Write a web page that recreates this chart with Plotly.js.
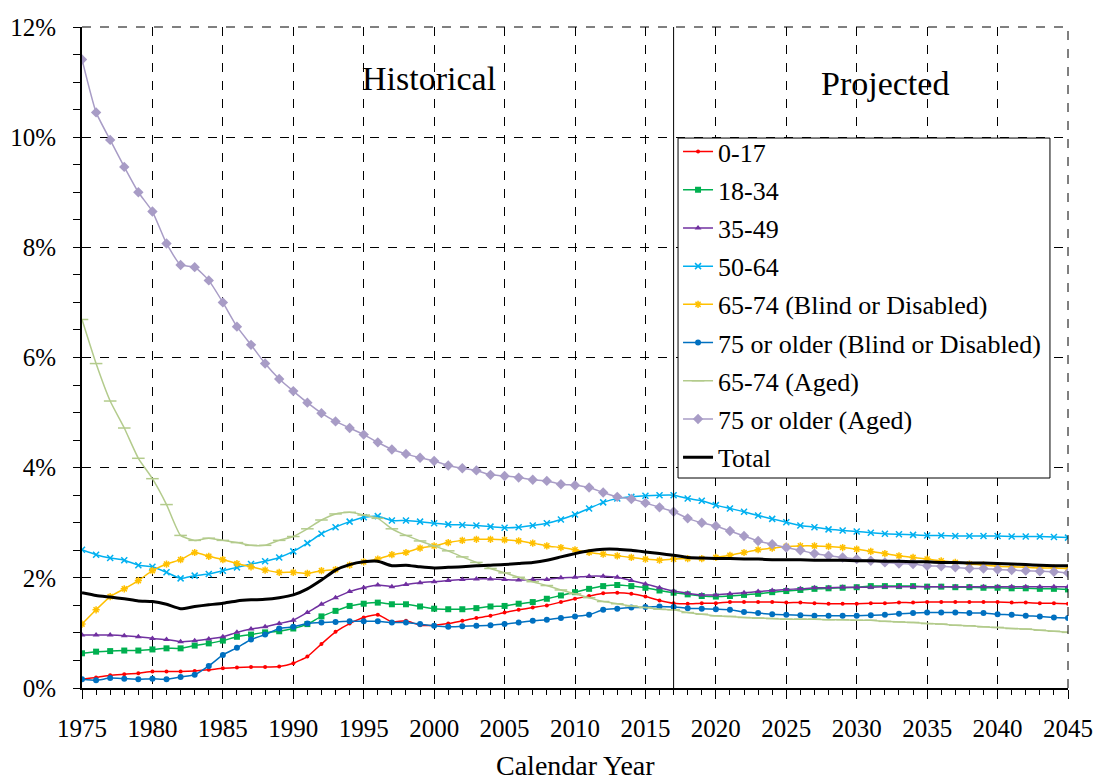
<!DOCTYPE html>
<html>
<head>
<meta charset="utf-8">
<script src="https://cdn.plot.ly/plotly-3.0.1.min.js"></script>
<style>html,body{margin:0;padding:0;background:#fff;}#chart{width:1094px;height:780px;}</style>
</head>
<body>
<div id="chart"></div>
<script>
const startYear = 1975, endYear = 2045;
const years = [];
for (let y = startYear; y <= endYear; y++) years.push(y);

const seriesNames = ["0-17","18-34","35-49","50-64","65-74 (Blind or Disabled)","75 or older (Blind or Disabled)","65-74 (Aged)","75 or older (Aged)","Total"];

const age0_17 = [0.16,0.19,0.23,0.25,0.27,0.30,0.30,0.30,0.31,0.33,0.36,0.37,0.38,0.38,0.39,0.45,0.57,0.80,1.02,1.17,1.28,1.33,1.20,1.22,1.14,1.14,1.17,1.22,
  1.27,1.31,1.37,1.42,1.46,1.50,1.56,1.62,1.67,1.72,1.73,1.71,1.66,1.59,1.54,
  1.53,1.54,1.54,1.56,1.56,1.56,1.56,1.55,1.55,1.54,1.53,1.53,1.53,1.54,1.54,1.55,1.55,1.56,1.56,1.56,1.56,1.56,1.56,1.55,1.55,1.54,1.54,1.53];
const age18_34 = [0.63,0.66,0.67,0.68,0.68,0.70,0.72,0.72,0.77,0.81,0.86,0.93,0.97,1.01,1.03,1.08,1.16,1.30,1.40,1.49,1.53,1.55,1.52,1.52,1.48,1.44,1.43,1.43,
  1.45,1.48,1.49,1.53,1.56,1.62,1.68,1.74,1.80,1.85,1.87,1.85,1.82,1.77,1.73,
  1.70,1.67,1.66,1.67,1.69,1.71,1.74,1.76,1.78,1.80,1.81,1.82,1.83,1.85,1.85,1.85,1.85,1.84,1.84,1.83,1.83,1.82,1.82,1.81,1.81,1.80,1.80,1.79];
const age35_49 = [0.96,0.96,0.96,0.95,0.93,0.90,0.88,0.84,0.86,0.89,0.93,1.01,1.07,1.11,1.17,1.23,1.37,1.52,1.64,1.75,1.82,1.87,1.84,1.88,1.91,1.93,1.95,1.97,
  1.98,1.98,1.97,1.96,1.97,1.97,2.00,2.01,2.03,2.03,2.01,1.95,1.89,1.82,1.76,
  1.72,1.69,1.69,1.71,1.73,1.75,1.77,1.79,1.80,1.82,1.82,1.83,1.83,1.83,1.84,1.84,1.84,1.84,1.84,1.84,1.84,1.84,1.84,1.84,1.84,1.84,1.84,1.84];
const age50_64 = [2.51,2.42,2.36,2.32,2.23,2.20,2.10,1.99,2.04,2.07,2.13,2.19,2.25,2.30,2.37,2.48,2.63,2.80,2.92,3.02,3.10,3.12,3.04,3.04,3.02,2.99,2.97,2.96,
  2.95,2.93,2.91,2.92,2.95,2.99,3.06,3.15,3.26,3.37,3.44,3.47,3.49,3.50,3.50,
  3.44,3.40,3.32,3.26,3.20,3.13,3.07,3.01,2.95,2.92,2.88,2.86,2.84,2.82,2.80,2.79,2.78,2.77,2.77,2.76,2.76,2.76,2.76,2.75,2.75,2.75,2.74,2.73];
const age65_74BD = [1.16,1.42,1.66,1.80,1.95,2.13,2.25,2.33,2.46,2.39,2.33,2.26,2.20,2.14,2.10,2.10,2.08,2.13,2.15,2.23,2.29,2.34,2.42,2.46,2.54,2.58,2.64,2.68,
  2.70,2.70,2.69,2.67,2.63,2.58,2.55,2.51,2.46,2.43,2.40,2.37,2.34,2.32,2.34,
  2.35,2.35,2.37,2.41,2.46,2.51,2.54,2.57,2.58,2.58,2.57,2.55,2.52,2.48,2.44,2.40,2.37,2.34,2.31,2.28,2.25,2.23,2.21,2.20,2.19,2.18,2.18,2.17];
const age75BD = [0.16,0.14,0.18,0.17,0.16,0.17,0.16,0.20,0.24,0.40,0.60,0.73,0.88,0.97,1.08,1.11,1.17,1.19,1.20,1.21,1.21,1.21,1.19,1.19,1.16,1.13,1.11,1.12,
  1.13,1.14,1.16,1.19,1.22,1.24,1.27,1.30,1.33,1.42,1.44,1.46,1.47,1.48,1.47,
  1.45,1.44,1.43,1.42,1.38,1.36,1.34,1.33,1.32,1.31,1.31,1.31,1.31,1.32,1.33,1.35,1.36,1.37,1.37,1.37,1.36,1.36,1.34,1.33,1.31,1.30,1.28,1.27];
const age65_74Aged = [6.69,5.89,5.21,4.72,4.17,3.80,3.33,2.77,2.68,2.72,2.68,2.64,2.59,2.59,2.68,2.75,2.89,3.05,3.16,3.19,3.14,3.08,2.89,2.77,2.67,2.58,2.49,2.38,
  2.28,2.17,2.09,2.01,1.93,1.86,1.78,1.71,1.64,1.57,1.53,1.49,1.46,1.43,1.42,
  1.37,1.34,1.31,1.30,1.28,1.27,1.26,1.25,1.25,1.25,1.24,1.24,1.23,1.23,1.21,1.20,1.19,1.17,1.16,1.14,1.13,1.11,1.10,1.08,1.07,1.05,1.03,1.01];
const age75Aged = [11.41,10.45,9.95,9.46,9.00,8.65,8.07,7.68,7.64,7.40,7.00,6.56,6.23,5.89,5.61,5.39,5.18,4.99,4.84,4.72,4.60,4.46,4.33,4.25,4.18,4.12,4.04,3.99,
  3.95,3.87,3.85,3.82,3.78,3.76,3.70,3.68,3.64,3.55,3.47,3.43,3.36,3.28,3.20,
  3.08,3.00,2.94,2.85,2.76,2.67,2.61,2.55,2.50,2.44,2.40,2.37,2.34,2.31,2.28,2.26,2.25,2.22,2.21,2.19,2.17,2.17,2.15,2.14,2.13,2.12,2.11,2.09];
const total = [1.73,1.68,1.65,1.62,1.58,1.57,1.52,1.44,1.48,1.51,1.54,1.58,1.60,1.61,1.64,1.69,1.80,1.96,2.14,2.24,2.29,2.30,2.22,2.23,2.20,2.18,2.19,2.20,
  2.22,2.23,2.24,2.26,2.28,2.32,2.38,2.44,2.49,2.52,2.52,2.50,2.47,2.44,2.41,
  2.37,2.36,2.35,2.35,2.34,2.34,2.33,2.33,2.33,2.32,2.32,2.32,2.31,2.31,2.30,2.30,2.29,2.29,2.28,2.28,2.27,2.27,2.26,2.25,2.24,2.23,2.22,2.22];

const seriesValues = [age0_17, age18_34, age35_49, age50_64, age65_74BD, age75BD, age65_74Aged, age75Aged, total];
const colors = ["#FF0000","#00B050","#7030A0","#00B0F0","#FFC000","#0070C0","#B3CB8C","#A89CC6","#000000"];
const symbols = ["circle","square","triangle-up","x-thin-open","asterisk-open","circle","line-ew-open","diamond",null];
const sizes = [4,6,6,6,6,6,9,8,0];

const traces = seriesValues.map((vals, i) => {
  const t = {
    x: years, y: vals, name: seriesNames[i], type: "scatter",
    legendgroup: "g" + i,
    line: {color: colors[i], width: i === 8 ? 3 : 1.5, shape: "spline", smoothing: 0.5},
    hoverinfo: "x+y+name"
  };
  if (symbols[i]) {
    t.mode = "lines+markers";
    t.marker = {symbol: symbols[i], size: sizes[i], color: colors[i], line: {color: colors[i], width: (symbols[i].indexOf("open") >= 0 ? 1.5 : 0)}};
  } else {
    t.mode = "lines";
  }
  return t;
});

const font = "Liberation Serif";
const layout = {
  width: 1094, height: 780,
  margin: {l: 82, r: 26, t: 27, b: 92},
  paper_bgcolor: "#fff", plot_bgcolor: "#fff",
  font: {family: font, color: "#000", size: 25},
  showlegend: true,
  legend: {
    x: 0.6045, y: 0.847, xanchor: "left", yanchor: "top",
    bgcolor: "rgba(0,0,0,0)", borderwidth: 0,
    font: {family: font, size: 26, color: "#000"},
    traceorder: "grouped", tracegroupgap: 1.4, itemwidth: 30
  },
  xaxis: {
    range: [1975, 2045], dtick: 5, tick0: 1975,
    showgrid: true, gridcolor: "#000", griddash: "dash", gridwidth: 1,
    showline: true, linecolor: "#000", linewidth: 2,
    ticks: "outside", ticklen: 9, tickcolor: "#000", tickwidth: 1,
    minor: {dtick: 1, ticks: "outside", ticklen: 5, tickcolor: "#000", showgrid: false},
    zeroline: false, automargin: false,
    ticklabelstandoff: 8,
    tickfont: {family: font, size: 25}
  },
  yaxis: {
    range: [0, 12], dtick: 2, ticksuffix: "%",
    showgrid: true, gridcolor: "#000", griddash: "dash", gridwidth: 1,
    showline: true, linecolor: "#000", linewidth: 2,
    ticks: "outside", ticklen: 7, tickcolor: "#000",
    minor: {dtick: 0.5, ticks: "outside", ticklen: 7, tickcolor: "#000", showgrid: false},
    zeroline: false, automargin: false,
    ticklabelstandoff: 12,
    tickfont: {family: font, size: 25}
  },
  shapes: [
    {type: "line", xref: "x", yref: "y", x0: 2017, x1: 2017, y0: 0, y1: 12, line: {color: "#000", width: 1}},
    {type: "line", xref: "paper", yref: "paper", x0: 0, x1: 1, y0: 1, y1: 1, line: {color: "#000", width: 1, dash: "dash"}},
    {type: "line", xref: "paper", yref: "paper", x0: 1, x1: 1, y0: 0, y1: 1, line: {color: "#000", width: 1, dash: "dash"}},
    {type: "rect", xref: "paper", yref: "paper", layer: "above", x0: 0.6045, x1: 0.9817, y0: 0.3177, y1: 0.832, fillcolor: "#fff", line: {color: "#000", width: 1}}
  ],
  annotations: [
    {text: "Historical", xref: "x", yref: "y", x: 1999.6, y: 11.07, showarrow: false, font: {family: font, size: 34, color: "#000"}},
    {text: "Projected", xref: "x", yref: "y", x: 2032, y: 10.98, showarrow: false, font: {family: font, size: 34, color: "#000"}},
    {text: "Calendar Year", xref: "paper", yref: "paper", x: 0.5, y: -0.118, yanchor: "middle", showarrow: false, font: {family: font, size: 28, color: "#000"}}
  ]
};

Plotly.newPlot("chart", traces, layout, {displayModeBar: false, staticPlot: true});
</script>
</body>
</html>
